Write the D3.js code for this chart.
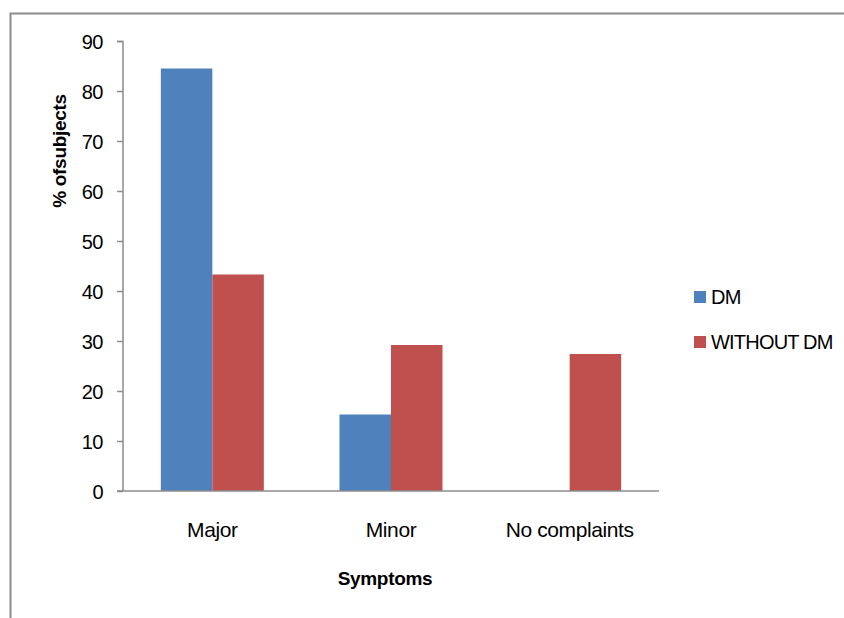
<!DOCTYPE html>
<html><head><meta charset="utf-8">
<script src="https://cdn.jsdelivr.net/npm/d3@7"></script>
<style>body{margin:0;background:#fff}svg{display:block}text{font-family:"Liberation Sans",Arial,sans-serif}</style>
</head><body><svg id="c" width="844" height="618"></svg>
<script>
const categories = ["Major", "Minor", "No complaints"];
const seriesNames = ["DM", "WITHOUT DM"];
const dmValues = [84.5, 15.3, 0];
const withoutDmValues = [43.3, 29.2, 27.4];
const yTicks = [0, 10, 20, 30, 40, 50, 60, 70, 80, 90];
const colors = ["#4f81bd", "#c0504d"];

const svg = d3.select("#c");
// outer frame
svg.append("path").attr("d", "M10.5,700 V13.5 H900").attr("fill", "none").attr("stroke", "#8c8c8c").attr("stroke-width", 2);

const pLeft = 123, pRight = 659, pTop = 41, pBottom = 491;
const x0 = d3.scaleBand().domain(categories).range([pLeft, pRight]).paddingInner(0).paddingOuter(0);
const x1 = d3.scaleBand().domain(seriesNames).range([0, x0.bandwidth()]).paddingInner(0).paddingOuter(0.735);
const y = d3.scaleLinear().domain([0, 90]).range([pBottom, pTop]);

const data = categories.map((c, i) => ({cat: c, vals: [dmValues[i], withoutDmValues[i]]}));

const g = svg.append("g");
g.selectAll("g.cat").data(data).join("g").attr("class", "cat")
  .attr("transform", d => `translate(${x0(d.cat)},0)`)
  .selectAll("rect").data(d => d.vals.map((v, j) => ({v, s: seriesNames[j], j})))
  .join("rect")
  .attr("x", d => x1(d.s)).attr("width", x1.bandwidth())
  .attr("y", d => y(d.v)).attr("height", d => pBottom - y(d.v))
  .attr("fill", d => colors[d.j]);

// y axis
const yAxis = svg.append("g").attr("transform", `translate(${pLeft},0)`)
  .call(d3.axisLeft(y).tickValues(yTicks).tickSize(6).tickPadding(14));
yAxis.select(".domain").attr("stroke", "#8c8c8c").attr("stroke-width", 1.5).attr("d", `M-6,${pTop}.5H0V${pBottom}`);
yAxis.selectAll(".tick line").attr("stroke", "#8c8c8c").attr("stroke-width", 1.5);
yAxis.selectAll(".tick text").attr("font-size", 20).attr("fill", "#000").attr("letter-spacing", -0.5).attr("dy", "0.35em");

// x axis line
svg.append("line").attr("x1", pLeft - 6).attr("x2", pRight).attr("y1", pBottom).attr("y2", pBottom)
  .attr("stroke", "#8c8c8c").attr("stroke-width", 1.5);
const xAxis = svg.append("g").attr("transform", `translate(0,${pBottom})`)
  .call(d3.axisBottom(x0).tickSize(0).tickPadding(30));
xAxis.select(".domain").remove();
xAxis.selectAll(".tick text").attr("font-size", 21).attr("fill", "#000").attr("letter-spacing", -0.4).attr("dy", "0.71em").attr("y", 31);

// axis titles
svg.append("text").attr("x", 385).attr("y", 585).attr("text-anchor", "middle")
  .attr("font-size", 19).attr("font-weight", "bold").attr("letter-spacing", -0.3).text("Symptoms");
svg.append("text").attr("transform", "translate(66,151) rotate(-90)").attr("text-anchor", "middle")
  .attr("font-size", 19).attr("font-weight", "bold").attr("letter-spacing", -0.3).text("% ofsubjects");

// legend
const leg = svg.append("g");
seriesNames.forEach((s, i) => {
  const yy = 296 + i * 45;
  leg.append("rect").attr("x", 694).attr("y", yy - 5).attr("width", 12).attr("height", 12).attr("fill", colors[i]);
  leg.append("text").attr("x", 711).attr("y", yy + 8).attr("font-size", 20).attr("letter-spacing", -0.8).text(s);
});
</script></body></html>
